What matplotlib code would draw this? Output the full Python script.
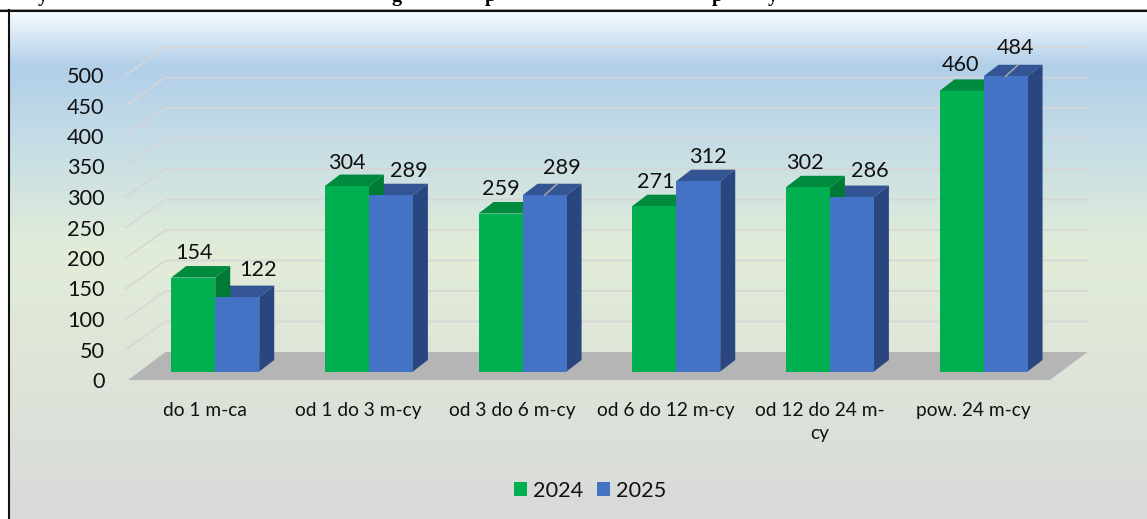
import matplotlib
matplotlib.use("Agg")
import numpy as np
import matplotlib.pyplot as plt
from matplotlib.colors import LinearSegmentedColormap
from matplotlib.patches import Polygon, Patch
from matplotlib.lines import Line2D

categories = ["do 1 m-ca", "od 1 do 3 m-cy", "od 3 do 6 m-cy", "od 6 do 12 m-cy", "od 12 do 24 m-\ncy", "pow. 24 m-cy"]
values_2024 = [154, 304, 259, 271, 302, 460]
values_2025 = [122, 289, 289, 312, 286, 484]
series_names = ["2024", "2025"]
y_ticks = [0, 50, 100, 150, 200, 250, 300, 350, 400, 450, 500]
clipped_title_glyphs = ["y", "g", "p", "p", "y"]

W, H = 1147, 519
FONT = "Lato"
NUM_SIZE = 15.6
fig = plt.figure(figsize=(W / 100, H / 100), dpi=100, facecolor="white")

# background gradient
bg = fig.add_axes([10 / W, 0, (W - 10) / W, (H - 11) / H], zorder=0)
bg.axis("off")
stops = [(0.0, "#f7fbfe"), (0.105, "#b2cfe9"), (0.25, "#c4dce6"), (0.47, "#e2edd9"), (0.84, "#dbe0d8"), (1.0, "#d9d9d9")]
cmap = LinearSegmentedColormap.from_list("bg", stops)
bg.imshow(np.linspace(0, 1, 508)[:, None], aspect="auto", cmap=cmap, vmin=0, vmax=1)

# frame (top and left only)
fig.add_artist(Line2D([0, 1], [1 - 10.5 / H] * 2, color="#111111", lw=1.5))
fig.add_artist(Line2D([0, 1], [1 - 9.2 / H] * 2, color="#999999", lw=0.7))
fig.add_artist(Line2D([8.8 / W] * 2, [0, 1 - 10 / H], color="#111111", lw=1.5))

# clipped title: only the descenders are visible in the reference
for g, px in zip(clipped_title_glyphs, [43, 397, 490, 717, 773]):
    fig.text(px / W, 1 - 1.0 / H, g, family="Liberation Serif", weight="bold", fontsize=14.5,
             ha="center", va="baseline", color="black")

# main axes: pixels 128..1050 in x, 380..75 in y
ax = fig.add_axes([128 / W, 1 - 380 / H, 922 / W, 305 / H], zorder=1)
ax.patch.set_alpha(0)
ax.set_xlim(-0.5, 5.5)
ax.set_ylim(0, 500)
for s in ax.spines.values():
    s.set_visible(False)
px_x = 6 / 922
px_y = 500 / 305

floor_dx, floor_dy = 37.5 * px_x, 28 * px_y
depth_dx, depth_dy = 15 * px_x, 11.5 * px_y
base_dx, base_dy = 10.4 * px_x, 8.5 * px_y
bar_w = 44 * px_x
x0, x1 = -0.5, 5.5

# floor and walls
for t in y_ticks[1:]:
    ax.plot([x0 - 2 * px_x, x0 + floor_dx, x1 + floor_dx],
            [t, t + floor_dy, t + floor_dy], color="#d6d6d6", lw=1.3,
            alpha=0.9, clip_on=False, zorder=1, solid_joinstyle="miter")
ax.add_patch(Polygon([(x0, 0), (x1, 0), (x1 + floor_dx, floor_dy), (x0 + floor_dx, floor_dy)],
                     closed=True, fc="#b5b5b5", ec="none", clip_on=False, zorder=2))

GREEN, GREEN_TOP, GREEN_SIDE = "#00b050", "#008a3e", "#007a35"
BLUE, BLUE_TOP, BLUE_SIDE = "#4472c4", "#335593", "#2a4680"
xs = np.arange(len(categories))


def faces(xc, v, top, side, z):
    l, r = xc - bar_w / 2, xc + bar_w / 2
    b, t = base_dy, base_dy + v
    ax.add_patch(Polygon([(l, t), (r, t), (r + depth_dx, t + depth_dy), (l + depth_dx, t + depth_dy)],
                         fc=top, ec="none", clip_on=False, zorder=z))
    ax.add_patch(Polygon([(r, b), (r + depth_dx, b + depth_dy), (r + depth_dx, t + depth_dy), (r, t)],
                         fc=side, ec="none", clip_on=False, zorder=z))


for i in xs:
    xg = i + base_dx - bar_w / 2
    xb = i + base_dx + bar_w / 2
    faces(xb, values_2025[i], BLUE_TOP, BLUE_SIDE, 3)
    faces(xg, values_2024[i], GREEN_TOP, GREEN_SIDE, 4)

ax.bar(xs + base_dx - bar_w / 2, values_2024, width=bar_w, bottom=base_dy, color=GREEN, zorder=5, clip_on=False)
ax.bar(xs + base_dx + bar_w / 2, values_2025, width=bar_w, bottom=base_dy, color=BLUE, zorder=6, clip_on=False)

# data labels (pixel offsets from the bar's top centre)
offs_2024 = [(1, 25), (0, 23.5), (0, 25), (2, 24.5), (-3, 24.5), (-1, 25.5)]
offs_2025 = [(21, 27.5), (18, 24.5), (17, 27.5), (10, 24.5), (18, 26.5), (10, 28.5)]
leaders_2025 = [False, False, True, False, False, True]
for i in xs:
    for vals, offs, sign in ((values_2024, offs_2024, -1), (values_2025, offs_2025, 1)):
        xc = i + base_dx + sign * bar_w / 2
        ax.annotate(str(vals[i]), xy=(xc, vals[i] + base_dy), xytext=offs[i], textcoords="offset pixels",
                    ha="center", va="center", family=FONT, fontsize=NUM_SIZE, color="#111111",
                    zorder=10, annotation_clip=False)
    if leaders_2025[i]:
        xc = i + base_dx + bar_w / 2
        t = values_2025[i] + base_dy
        ax.plot([xc, xc + depth_dx * 0.85], [t, t + depth_dy], color="#a8a8a8", lw=1.1,
                zorder=9, clip_on=False)

ax.set_yticks(y_ticks)
ax.set_xticks(xs)
ax.set_xticklabels(categories, family=FONT, fontsize=13.8, color="#111111", linespacing=1.38)
ax.tick_params(axis="x", length=0, pad=16)
ax.tick_params(axis="y", length=0, pad=17)
for lab in ax.get_yticklabels():
    lab.set_family(FONT)
    lab.set_fontsize(NUM_SIZE)
    lab.set_color("#111111")

handles = [Patch(fc=GREEN, ec="none", label=series_names[0]), Patch(fc=BLUE, ec="none", label=series_names[1])]
leg = fig.legend(handles=handles, loc="center", bbox_to_anchor=(590 / W, 1 - 491 / H), ncol=2, frameon=False,
                 prop={"family": FONT, "size": NUM_SIZE}, handlelength=0.6, handleheight=0.6,
                 handletextpad=0.28, columnspacing=0.62, labelcolor="#111111", borderpad=0)

fig.savefig("out.png", dpi=100)
